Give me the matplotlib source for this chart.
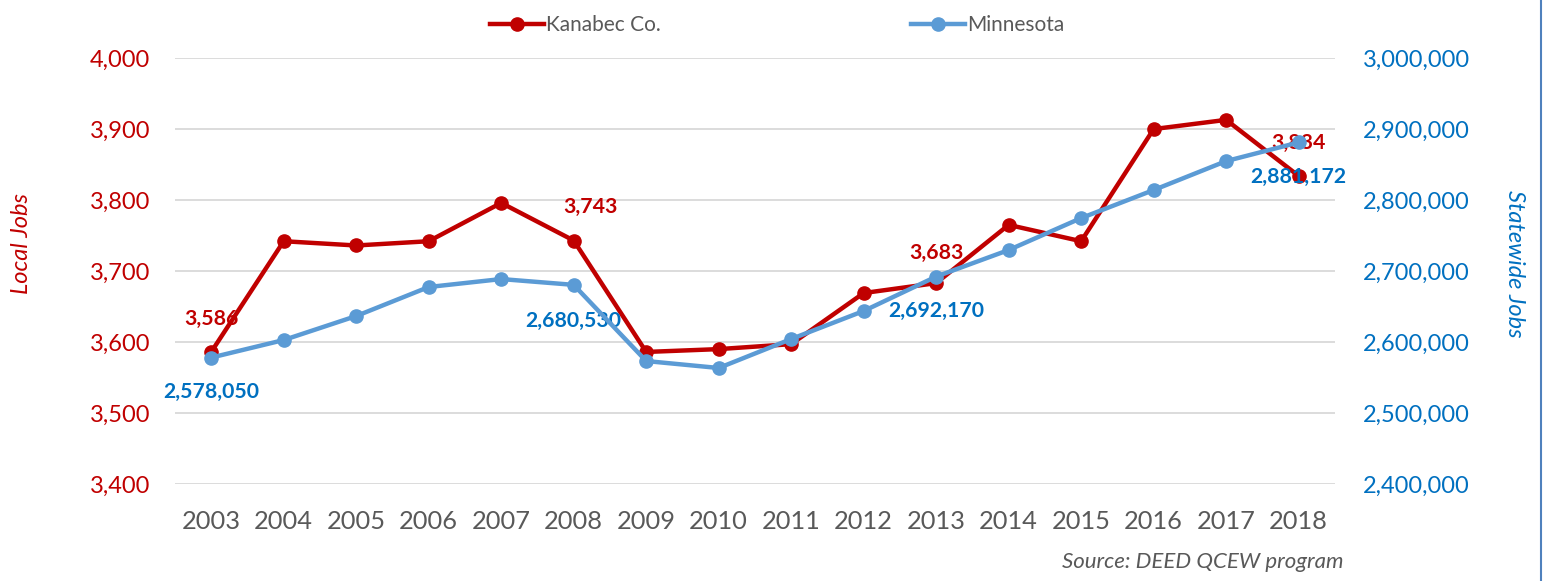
import matplotlib
matplotlib.use("Agg")
import matplotlib.pyplot as plt
from matplotlib.lines import Line2D
from matplotlib.ticker import FuncFormatter

years = ["2003", "2004", "2005", "2006", "2007", "2008", "2009", "2010",
         "2011", "2012", "2013", "2014", "2015", "2016", "2017", "2018"]
kanabec = [3586, 3742, 3736, 3742, 3796, 3743, 3586, 3590,
           3597, 3669, 3683, 3765, 3742, 3900, 3913, 3834]
minnesota = [2578050, 2602800, 2636600, 2677500, 2688700, 2680530, 2573200, 2563400,
             2604200, 2643700, 2692170, 2729600, 2774600, 2814100, 2854900, 2881172]
kan_labels = {0: "3,586", 5: "3,743", 10: "3,683", 15: "3,834"}
mn_labels = {0: "2,578,050", 5: "2,680,530", 10: "2,692,170", 15: "2,881,172"}

RED = "#C00000"
BLUE_LINE = "#5B9BD5"
BLUE_TXT = "#0070C0"
GRAY = "#595959"
FONT = "Lato"

plt.rcParams["font.family"] = [FONT, "DejaVu Sans"]

fig = plt.figure(figsize=(15.54, 5.81), dpi=100)
ax = fig.add_axes([0.1126, 0.167, 0.859 - 0.1126, 0.900 - 0.167])
ax2 = ax.twinx()

x = list(range(len(years)))
ax.set_xlim(-0.5, len(years) - 0.5)
ax.set_ylim(3400, 4000)
ax2.set_ylim(2400000, 3000000)
ax.set_yticks(range(3400, 4001, 100))
ax2.set_yticks(range(2400000, 3000001, 100000))
ax.yaxis.set_major_formatter(FuncFormatter(lambda v, p: f"{int(v):,}"))
ax2.yaxis.set_major_formatter(FuncFormatter(lambda v, p: f"{int(v):,}"))
ax.set_xticks(x)
ax.set_xticklabels(years)

ax.grid(axis="y", color="#D9D9D9", linewidth=1.3)
ax.set_axisbelow(True)
for a in (ax, ax2):
    for s in a.spines.values():
        s.set_visible(False)
    a.tick_params(length=0)

ax.tick_params(axis="y", colors=RED, labelsize=17, pad=18)
ax2.tick_params(axis="y", colors=BLUE_TXT, labelsize=17, pad=20)
ax.tick_params(axis="x", colors=GRAY, labelsize=18.3, pad=19)

# data labels (drawn beneath lines)
kan_off = {0: (0, 24), 5: (12, 24), 10: (0, 22), 15: (0, 24)}
mn_off = {0: (0, -25), 5: (0, -26), 10: (0, -25), 15: (0, -25)}
for i, t in kan_labels.items():
    dx, dy = kan_off[i]
    ax.annotate(t, (x[i], kanabec[i]), xytext=(dx, dy), textcoords="offset points",
                ha="center", va="center", color=RED, fontsize=15.3, fontweight="bold",
                zorder=1)
for i, t in mn_labels.items():
    dx, dy = mn_off[i]
    ax2.annotate(t, (x[i], minnesota[i]), xytext=(dx, dy), textcoords="offset points",
                 ha="center", va="center", color=BLUE_TXT, fontsize=15.3, fontweight="bold",
                 zorder=1)

ax.plot(x, kanabec, color=RED, linewidth=3.2, marker="o", markersize=9.5, zorder=3)
ax2.plot(x, minnesota, color=BLUE_LINE, linewidth=3.2, marker="o", markersize=9.5, zorder=3)

fig.text(22 / 1554, 1 - 243 / 581, "Local Jobs", color=RED, fontsize=17, style="italic",
         rotation=90, ha="center", va="center")
fig.text(1515 / 1554, 1 - 264 / 581, "Statewide Jobs", color=BLUE_TXT, fontsize=17,
         style="italic", rotation=270, ha="center", va="center")

handles = [Line2D([], [], color=RED, linewidth=3.2, marker="o", markersize=9.5),
           Line2D([], [], color=BLUE_LINE, linewidth=3.2, marker="o", markersize=9.5)]
fig.legend(handles, ["Kanabec Co.", "Minnesota"], loc="center",
           bbox_to_anchor=(0.5, 1 - 25 / 581), ncol=2, frameon=False,
           fontsize=15, labelcolor=GRAY, handlelength=2.6, handletextpad=0.1,
           columnspacing=12)

fig.text(1343 / 1554, 1 - 562 / 581, "Source: DEED QCEW program", ha="right",
         va="center", color=GRAY, fontsize=16, style="italic")

fig.add_artist(Line2D([1541 / 1554, 1541 / 1554], [0, 1], color="#4F81BD",
                      linewidth=1.5, transform=fig.transFigure))

fig.savefig("out.png", dpi=100)
